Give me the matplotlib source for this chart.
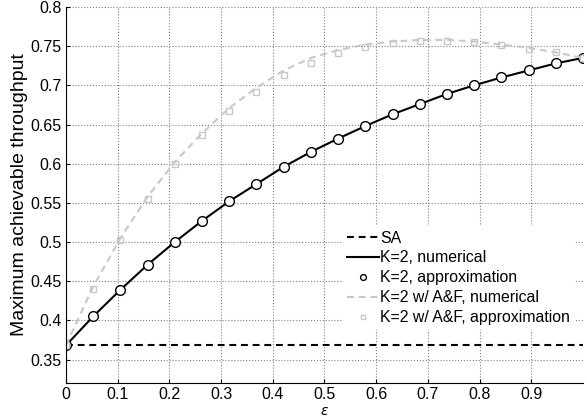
import numpy as np
import matplotlib
matplotlib.use("Agg")
import matplotlib.pyplot as plt

plt.rcParams['font.family'] = ['Liberation Sans', 'DejaVu Sans']

# epsilon sample points (20 points from 0 to 1)
eps = [0.0, 0.0526, 0.1053, 0.1579, 0.2105, 0.2632, 0.3158, 0.3684, 0.4211, 0.4737,
       0.5263, 0.5789, 0.6316, 0.6842, 0.7368, 0.7895, 0.8421, 0.8947, 0.9474, 1.0]

sa_value = 0.368

k2_num = [0.368, 0.405, 0.439, 0.471, 0.500, 0.527, 0.552, 0.574, 0.596, 0.615,
          0.632, 0.648, 0.663, 0.676, 0.689, 0.700, 0.710, 0.719, 0.728, 0.735]
k2_approx = [0.368, 0.405, 0.439, 0.471, 0.500, 0.527, 0.552, 0.574, 0.596, 0.615,
             0.632, 0.648, 0.663, 0.676, 0.689, 0.700, 0.710, 0.719, 0.728, 0.735]

af_num = [0.368, 0.443, 0.505, 0.558, 0.602, 0.639, 0.671, 0.697, 0.719, 0.735,
          0.745, 0.752, 0.756, 0.758, 0.758, 0.756, 0.752, 0.748, 0.742, 0.735]
af_approx = [0.368, 0.440, 0.502, 0.555, 0.599, 0.636, 0.667, 0.692, 0.713, 0.729,
             0.741, 0.749, 0.754, 0.756, 0.757, 0.755, 0.752, 0.747, 0.742, 0.735]

xticks = [0, 0.1, 0.2, 0.3, 0.4, 0.5, 0.6, 0.7, 0.8, 0.9]
yticks = [0.35, 0.4, 0.45, 0.5, 0.55, 0.6, 0.65, 0.7, 0.75, 0.8]

fig = plt.figure(figsize=(5.87, 4.19), dpi=100)
ax = fig.add_axes([0.1124, 0.0859, 0.8808, 0.8974])

grey = '#c8c8c8'
ax.plot([0, 1], [sa_value, sa_value], color='black', ls=(0, (3.3, 2.3)), lw=1.5, label='SA')
ax.plot(eps, k2_num, color='black', lw=1.5, label='K=2, numerical')
ax.plot(eps, k2_approx, ls='none', marker='o', ms=7, mfc='white', mec='black',
        mew=1.0, label='K=2, approximation')
ax.plot(eps, af_num, color=grey, ls=(0, (3.3, 2.3)), lw=1.5, label='K=2 w/ A&F, numerical')
ax.plot(eps, af_approx, ls='none', marker='s', ms=5, mfc='none', mec=grey,
        mew=1.0, label='K=2 w/ A&F, approximation')

ax.set_xlim(0, 1)
ax.set_ylim(0.32, 0.8)
ax.set_xticks(xticks)
ax.set_xticklabels(['0', '0.1', '0.2', '0.3', '0.4', '0.5', '0.6', '0.7', '0.8', '0.9'])
ax.set_yticks(yticks)
ax.set_yticklabels(['0.35', '0.4', '0.45', '0.5', '0.55', '0.6', '0.65', '0.7', '0.75', '0.8'])
ax.tick_params(direction='in', labelsize=11.5, length=3, pad=3)
ax.grid(True, ls=':', color='#808080', lw=0.8)
ax.spines['top'].set_visible(False)
ax.spines['right'].set_visible(False)

ax.set_xlabel(r'$\varepsilon$', fontsize=10, labelpad=1)
ax.set_ylabel('Maximum achievable throughput', fontsize=14, labelpad=2)

leg = ax.legend(loc='lower right', bbox_to_anchor=(1.0, 0.12), fontsize=11.4,
                handlelength=2.0, handletextpad=0.1, markerscale=0.6,
                labelspacing=0.31, borderpad=0.3, fancybox=False,
                framealpha=1.0, edgecolor='none', facecolor='white')

fig.savefig('out.png', dpi=100)
